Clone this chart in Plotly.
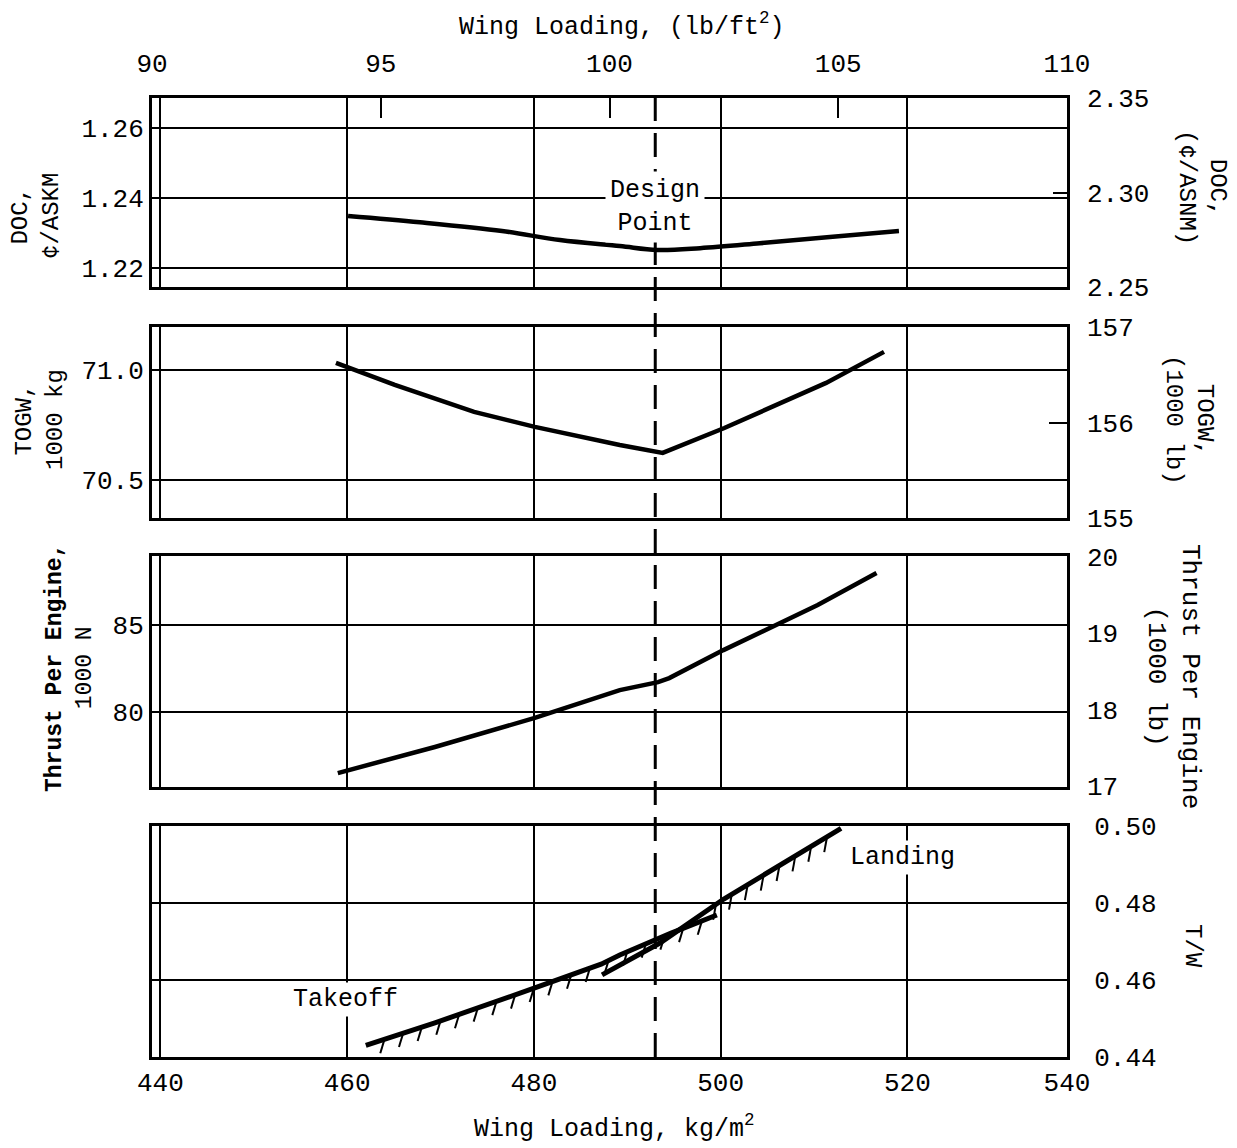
import numpy as np
import plotly.graph_objects as go

# ---------------- data ----------------
wl_range = [439.1, 537.1]                      # kg/m2 extent of the frame
wl_lb_range = [90, 110]                        # lb/ft2 extent of the frame
x_tick_vals = [440, 460, 480, 500, 520]
x_tick_labels = ["440", "460", "480", "500", "520", "540"]
top_tick_vals = [90, 95, 100, 105, 110]
top_tick_labels = ["90", "95", "100", "105", "110"]

design_point_wl = 493.0

doc_wl = [460.1, 467.8, 476.6, 482.8, 489.2, 493.2, 497.8, 504.2, 511.7, 519.1]
doc_askm = [1.2349, 1.2331, 1.2306, 1.2280, 1.2263, 1.2252, 1.2257, 1.2271, 1.2289, 1.2306]

togw_wl = [458.8, 465.1, 473.6, 480.1, 489.2, 493.8, 500.4, 511.3, 517.5]
togw_1000kg = [71.032, 70.932, 70.809, 70.741, 70.659, 70.623, 70.736, 70.941, 71.082]

thrust_wl = [459.0, 469.4, 480.1, 489.2, 493.3, 494.5, 500.3, 505.3, 510.4, 516.7]
thrust_kn = [76.49, 77.99, 79.66, 81.26, 81.72, 81.95, 83.56, 84.83, 86.15, 87.99]

takeoff_wl = [462.0, 469.4, 480.1, 487.2, 489.2, 494.7, 499.6]
takeoff_tw = [0.4429, 0.4488, 0.4579, 0.4641, 0.4665, 0.4722, 0.4769]

landing_wl = [487.3, 493.5, 500.3, 506.4, 512.9]
landing_tw = [0.4613, 0.4696, 0.4810, 0.4899, 0.4995]

doc_left_ticks = [1.22, 1.24, 1.26]
doc_left_labels = ["1.22", "1.24", "1.26"]
doc_right_ticks = [2.25, 2.30, 2.35]
doc_right_labels = ["2.25", "2.30", "2.35"]
togw_left_ticks = [70.5, 71.0]
togw_left_labels = ["70.5", "71.0"]
togw_right_ticks = [155, 156, 157]
thrust_left_ticks = [80, 85]
thrust_right_ticks = [17, 18, 19, 20]
tw_ticks = [0.44, 0.46, 0.48, 0.50]
tw_labels = ["0.44", "0.46", "0.48", "0.50"]

doc_left_range = [1.2146, 1.2686]
doc_right_range = [2.25, 2.35]
togw_left_range = [70.327, 71.195]
togw_right_range = [155, 157]
thrust_left_range = [75.69, 88.97]
thrust_right_range = [16.99, 20.01]
tw_range = [0.4399, 0.5001]

# ---------------- styling ----------------
FONT = "Liberation Mono"
BLACK = "#000000"
TICK_SIZE = 26
TITLE_SIZE = 25

PAGE_OFF = 8                      # default body margin of the html page
W, H = 1229, 1140
ML, MR, MT, MB = 144, 170, 90, 91
PW = W - ML - MR
PH = H - MT - MB


def py(p):
    """page pixel y -> paper y"""
    return (H - MB - (p - PAGE_OFF)) / PH


def px(p):
    """page pixel x -> paper x"""
    return (p - PAGE_OFF - ML) / PW


dom1 = [py(287), 1.0]
dom2 = [py(518), py(327)]
dom3 = [py(787), py(556)]
dom4 = [0.0, py(826)]

fig = go.Figure()

line_style = dict(color=BLACK, width=4.5)

fig.add_trace(go.Scatter(x=doc_wl, y=doc_askm, mode="lines", line=line_style,
                         line_shape="spline", xaxis="x", yaxis="y",
                         showlegend=False, hoverinfo="skip"))
fig.add_trace(go.Scatter(x=togw_wl, y=togw_1000kg, mode="lines", line=line_style,
                         xaxis="x2", yaxis="y3", showlegend=False, hoverinfo="skip"))
fig.add_trace(go.Scatter(x=thrust_wl, y=thrust_kn, mode="lines", line=line_style,
                         xaxis="x3", yaxis="y5", showlegend=False, hoverinfo="skip"))
fig.add_trace(go.Scatter(x=takeoff_wl, y=takeoff_tw, mode="lines", line=dict(color=BLACK, width=5),
                         xaxis="x4", yaxis="y7", showlegend=False, hoverinfo="skip"))
fig.add_trace(go.Scatter(x=landing_wl, y=landing_tw, mode="lines", line=dict(color=BLACK, width=5),
                         xaxis="x4", yaxis="y7", showlegend=False, hoverinfo="skip"))


def hatch(xs, ys, start, stop, step, dx, dy):
    hx, hy = [], []
    for x0 in np.arange(start, stop, step):
        y0 = float(np.interp(x0, xs, ys))
        hx += [x0, x0 + dx, None]
        hy += [y0, y0 + dy, None]
    return hx, hy


hx, hy = hatch(takeoff_wl, takeoff_tw, 464.0, 500.0, 2.0, -0.45, -0.0036)
fig.add_trace(go.Scatter(x=hx, y=hy, mode="lines", line=dict(color=BLACK, width=2),
                         xaxis="x4", yaxis="y7", showlegend=False, hoverinfo="skip"))
hx, hy = hatch(landing_wl, landing_tw, 499.5, 512.3, 1.7, -0.3, -0.0040)
fig.add_trace(go.Scatter(x=hx, y=hy, mode="lines", line=dict(color=BLACK, width=2),
                         xaxis="x4", yaxis="y7", showlegend=False, hoverinfo="skip"))

# empty traces so that the secondary axes get drawn
for xa, ya in [("x", "y2"), ("x2", "y4"), ("x3", "y6"), ("x5", "y")]:
    fig.add_trace(go.Scatter(x=[], y=[], xaxis=xa, yaxis=ya, showlegend=False, hoverinfo="skip"))

tickfont = dict(family=FONT, size=TICK_SIZE, color=BLACK)

xcommon = dict(range=wl_range, tickvals=x_tick_vals + [wl_range[1]], ticktext=x_tick_labels,
               showgrid=True, gridcolor=BLACK, gridwidth=2, showline=True, mirror=True,
               linecolor=BLACK, linewidth=3, zeroline=False, ticks="", tickfont=tickfont)
ycommon = dict(showgrid=True, gridcolor=BLACK, gridwidth=2, showline=True, mirror=True,
               linecolor=BLACK, linewidth=3, zeroline=False, ticks="", tickfont=tickfont)
yright = dict(showgrid=False, showline=False, zeroline=False, side="right",
              tickfont=tickfont, ticks="inside", tickwidth=2, tickcolor=BLACK,
              ticklabelstandoff=19)

fig.update_layout(
    width=W, height=H,
    margin=dict(l=ML, r=MR, t=MT, b=MB),
    paper_bgcolor="white", plot_bgcolor="white",
    font=dict(family=FONT, color=BLACK),
    xaxis=dict(xcommon, anchor="y", domain=[0, 1], showticklabels=False),
    xaxis2=dict(xcommon, anchor="y3", domain=[0, 1], showticklabels=False),
    xaxis3=dict(xcommon, anchor="y5", domain=[0, 1], showticklabels=False),
    xaxis4=dict(xcommon, anchor="y7", domain=[0, 1], showticklabels=True, ticklabelstandoff=0),
    xaxis5=dict(overlaying="x", side="top", anchor="y", range=wl_lb_range,
                tickvals=top_tick_vals, ticktext=top_tick_labels, tickfont=tickfont,
                ticks="inside", ticklen=20, tickwidth=2, tickcolor=BLACK,
                showgrid=False, showline=False, zeroline=False, ticklabelstandoff=20),
    yaxis=dict(ycommon, domain=dom1, anchor="x", range=doc_left_range,
               tickvals=doc_left_ticks, ticktext=doc_left_labels),
    yaxis2=dict(yright, overlaying="y", anchor="x", range=doc_right_range,
                tickvals=doc_right_ticks, ticktext=doc_right_labels, ticklen=14),
    yaxis3=dict(ycommon, domain=dom2, anchor="x2", range=togw_left_range,
                tickvals=togw_left_ticks, ticktext=togw_left_labels),
    yaxis4=dict(yright, overlaying="y3", anchor="x2", range=togw_right_range,
                tickvals=togw_right_ticks, ticklen=18),
    yaxis5=dict(ycommon, domain=dom3, anchor="x3", range=thrust_left_range,
                tickvals=thrust_left_ticks),
    yaxis6=dict(yright, overlaying="y5", anchor="x3", range=thrust_right_range,
                tickvals=thrust_right_ticks, ticks=""),
    yaxis7=dict(ycommon, domain=dom4, anchor="x4", range=tw_range, side="right",
                tickvals=tw_ticks, ticktext=tw_labels, ticklabelstandoff=19),
)

# design point dashed line through all panels
fig.add_shape(type="line", xref="x", yref="paper", x0=design_point_wl, x1=design_point_wl,
              y0=0, y1=1, line=dict(color=BLACK, width=3, dash="24px,12px"), layer="above")

ann_font = dict(family=FONT, size=TITLE_SIZE, color=BLACK)
center = dict(xanchor="center", yanchor="middle", showarrow=False)
fig.add_annotation(x=design_point_wl, y=1.2374, xref="x", yref="y", text="Design<br>Point",
                   font=ann_font, bgcolor="white", borderpad=4, **center)
fig.add_annotation(x=459.8, y=0.4548, xref="x4", yref="y7", text="Takeoff",
                   font=ann_font, bgcolor="white", borderpad=2, **center)
fig.add_annotation(x=519.5, y=0.4919, xref="x4", yref="y7", text="Landing",
                   font=ann_font, bgcolor="white", borderpad=2, **center)

# axis titles
fig.add_annotation(x=px(622), y=py(25), xref="paper", yref="paper",
                   text="Wing Loading, (lb/ft<sup>2</sup>)", font=ann_font, **center)
fig.add_annotation(x=px(614), y=py(1127), xref="paper", yref="paper",
                   text="Wing Loading, kg/m<sup>2</sup>", font=ann_font, **center)

left_titles = [
    ("DOC,<br>¢/ASKM", 36, 216, 24),
    ("TOGW,<br>1000 kg", 40, 420, 24),
    ("<b>Thrust Per Engine,</b><br>1000 N", 70, 668, 23),
]
for txt, xx, yy, fs in left_titles:
    fig.add_annotation(x=px(xx), y=py(yy), xref="paper", yref="paper", text=txt,
                       textangle=-90, font=dict(ann_font, size=fs), **center)

right_titles = [
    ("DOC,<br>(¢/ASNM)", 1202, 187, 24),
    ("TOGW,<br>(1000 lb)", 1189, 420, 24),
    ("Thrust Per Engine<br>(1000 lb)", 1173, 676, 26),
    ("T/W", 1193, 946, 24),
]
for txt, xx, yy, fs in right_titles:
    fig.add_annotation(x=px(xx), y=py(yy), xref="paper", yref="paper", text=txt,
                       textangle=90, font=dict(ann_font, size=fs), **center)

fig.write_html("out.html")
